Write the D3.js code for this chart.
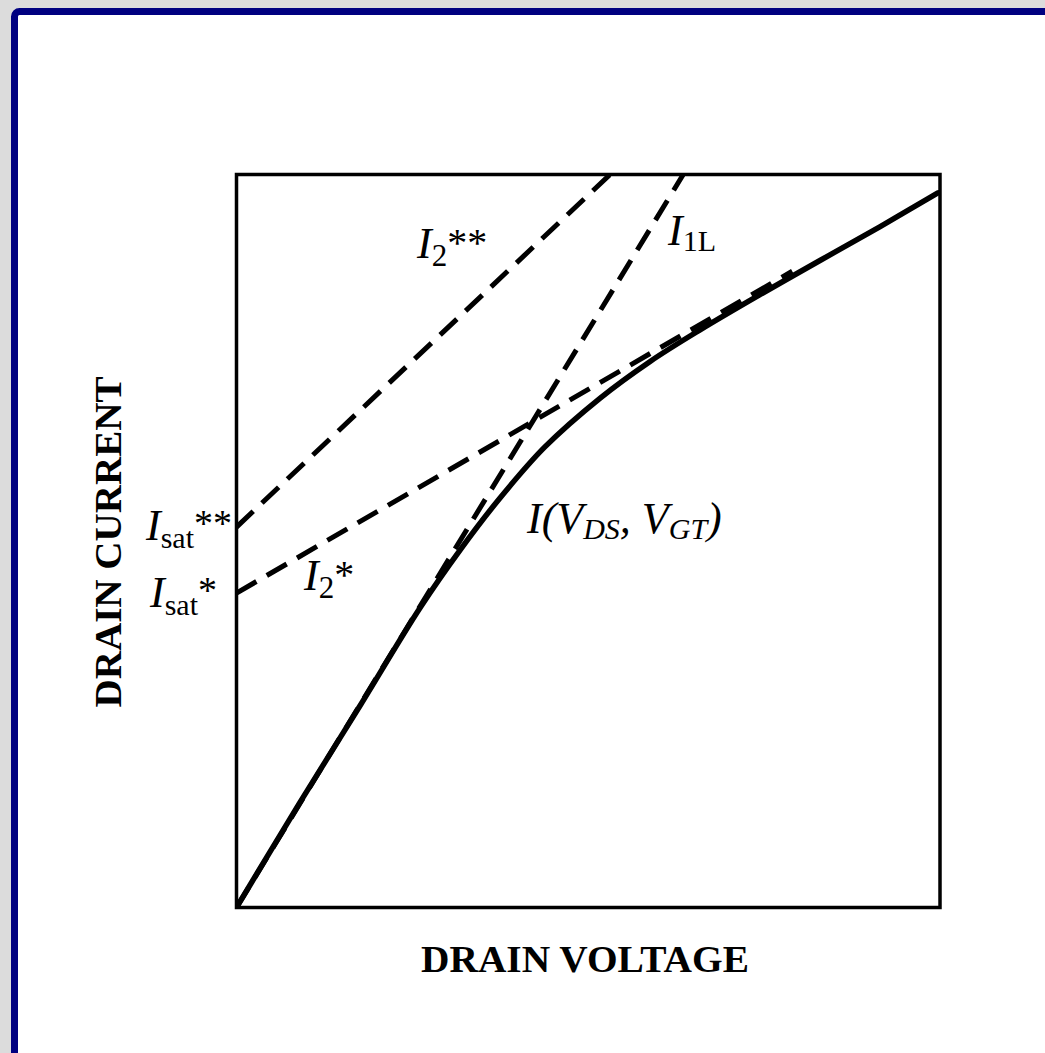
<!DOCTYPE html>
<html>
<head>
<meta charset="utf-8">
<script src="https://cdn.jsdelivr.net/npm/d3@7"></script>
<style>
  html, body { margin: 0; padding: 0; background: #dcdcdc; overflow: hidden; }
  svg { display: block; }
  text { font-family: "Liberation Serif", "Times New Roman", serif; fill: #000; }
</style>
</head>
<body>
<svg id="chart" width="1045" height="1053"></svg>
<script>
// Drain current vs drain voltage (normalised units 0..10 on both axes)
const driveVoltage = [0, 0.9, 1.76, 2.61, 3.18, 3.74, 4.38, 5.17, 5.88, 6.59, 7.44, 8.3, 9.15, 9.97];
const driveCurrent = [0, 1.43, 2.76, 4.09, 4.88, 5.58, 6.28, 6.95, 7.45, 7.88, 8.36, 8.83, 9.29, 9.75];

// Linear-region asymptote I1L
const linearV = [0, 6.35];
const linearI = [0, 10];

// Saturation asymptote I2*
const sat1V = [0, 7.9];
const sat1I = [4.29, 8.68];

// Saturation asymptote I2**
const sat2V = [0, 5.31];
const sat2I = [5.19, 10];

const svg = d3.select("#chart");

// Slide frame
svg.append("rect")
  .attr("x", 14.5).attr("y", 11.5)
  .attr("width", 1100).attr("height", 1100)
  .attr("rx", 5)
  .attr("fill", "#fff")
  .attr("stroke", "#000080")
  .attr("stroke-width", 7);

const x = d3.scaleLinear().domain([0, 10]).range([236.5, 940]);
const y = d3.scaleLinear().domain([0, 10]).range([907.5, 174.5]);

svg.append("defs").append("clipPath").attr("id", "plot")
  .append("rect")
  .attr("x", x(0)).attr("y", y(10))
  .attr("width", x(10) - x(0)).attr("height", y(0) - y(10));

const line = d3.line().x(d => x(d[0])).y(d => y(d[1]));
const smooth = d3.line().x(d => x(d[0])).y(d => y(d[1])).curve(d3.curveCatmullRom.alpha(0.5));

const plot = svg.append("g").attr("clip-path", "url(#plot)");

const dashed = [
  d3.zip(linearV, linearI),
  d3.zip(sat1V, sat1I),
  d3.zip(sat2V, sat2I)
];
plot.selectAll("path.asym").data(dashed).join("path")
  .attr("class", "asym")
  .attr("d", line)
  .attr("fill", "none")
  .attr("stroke", "#000")
  .attr("stroke-width", 5)
  .attr("stroke-dasharray", "23,12");

plot.append("path")
  .datum(d3.zip(driveVoltage, driveCurrent))
  .attr("d", smooth)
  .attr("fill", "none")
  .attr("stroke", "#000")
  .attr("stroke-width", 5.5)
  .attr("stroke-linecap", "round");

// Plot frame
svg.append("rect")
  .attr("x", x(0)).attr("y", y(10))
  .attr("width", x(10) - x(0)).attr("height", y(0) - y(10))
  .attr("fill", "none")
  .attr("stroke", "#000")
  .attr("stroke-width", 3.5);

// Axis titles
svg.append("text")
  .attr("x", 585).attr("y", 972)
  .attr("text-anchor", "middle")
  .attr("font-weight", "bold")
  .attr("font-size", 37)
  .attr("textLength", 328)
  .attr("lengthAdjust", "spacingAndGlyphs")
  .text("DRAIN VOLTAGE");

svg.append("text")
  .attr("transform", "translate(121,542) rotate(-90)")
  .attr("text-anchor", "middle")
  .attr("font-weight", "bold")
  .attr("font-size", 38)
  .attr("textLength", 331)
  .attr("lengthAdjust", "spacingAndGlyphs")
  .text("DRAIN CURRENT");

// Curve labels built from tspans: [text, italic, size, dy]
function label(px, py, parts) {
  const t = svg.append("text").attr("x", px).attr("y", py);
  parts.forEach(p => {
    t.append("tspan")
      .attr("font-style", p[1] ? "italic" : "normal")
      .attr("font-size", p[2])
      .attr("dy", p[3])
      .text(p[0]);
  });
}

label(417, 258, [["I", true, 44, 0], ["2", false, 31, 8], ["**", false, 40, -10]]);
label(668, 245, [["I", true, 44, 0], ["1L", false, 30, 6]]);
label(304, 590, [["I", true, 44, 0], ["2", false, 31, 8], ["*", false, 40, -10]]);
label(146, 540, [["I", true, 44, 0], ["sat", false, 30, 8], ["**", false, 38, -12]]);
label(150, 607, [["I", true, 44, 0], ["sat", false, 30, 8], ["*", false, 38, -12]]);
label(527, 533, [["I(V", true, 44, 0], ["DS", true, 30, 6], [", V", true, 44, -6], ["GT", true, 30, 6], [")", true, 44, -6]]);
</script>
</body>
</html>
